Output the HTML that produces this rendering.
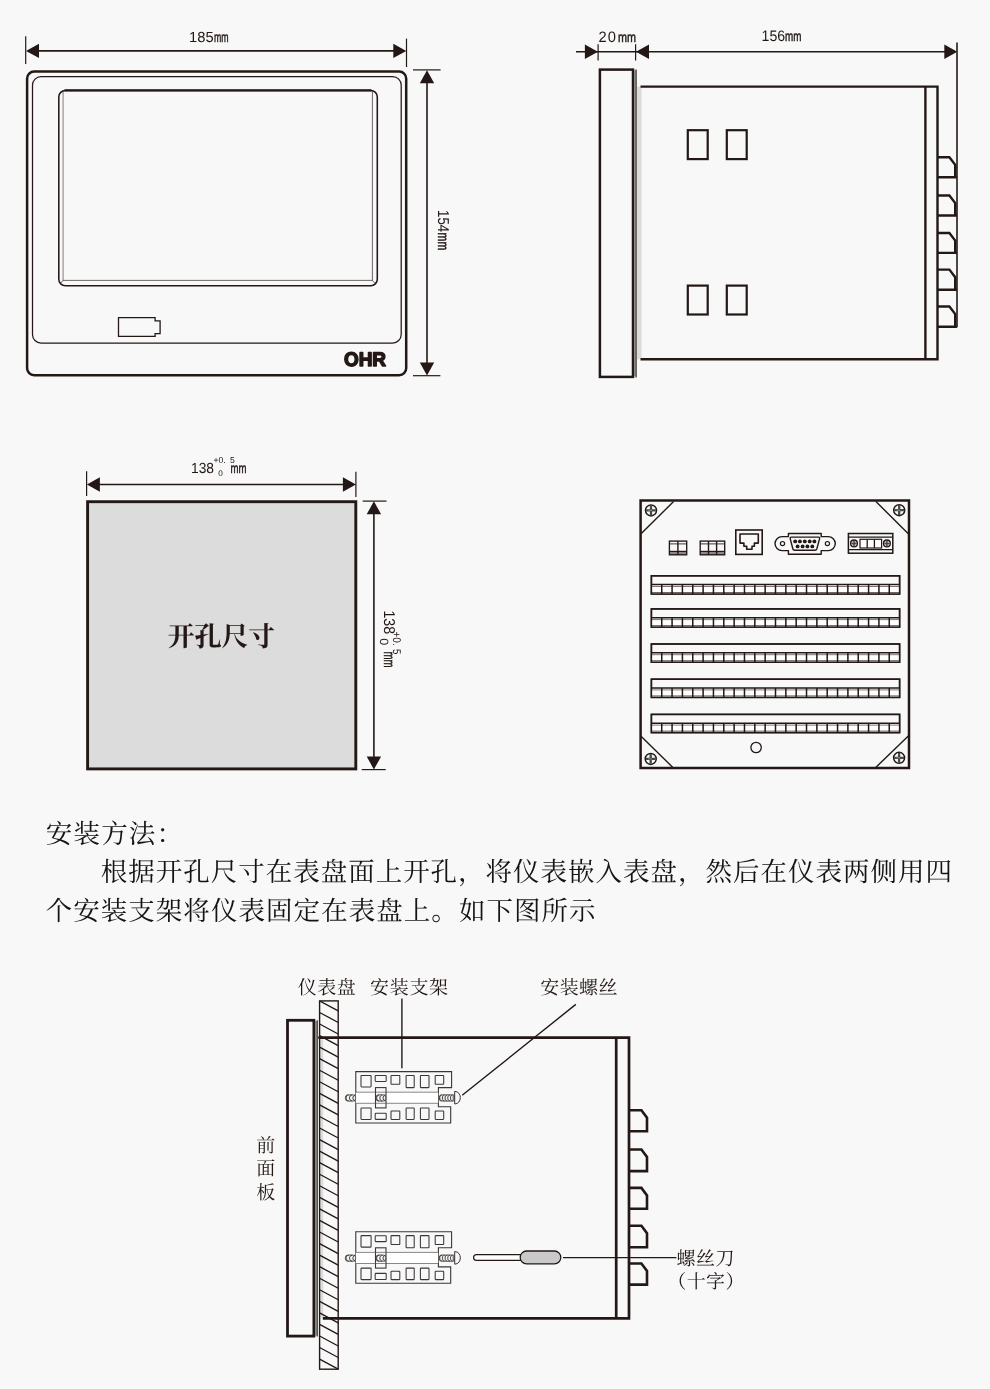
<!DOCTYPE html>
<html lang="zh-CN">
<head>
<meta charset="utf-8">
<title>安装方法 - 开孔尺寸</title>
<style>
html,body{margin:0;padding:0;background:#f8f8f8;}
body{width:990px;height:1389px;overflow:hidden;font-family:"Liberation Sans",sans-serif;}
svg{display:block;will-change:transform;}
svg text{text-rendering:geometricPrecision;font-family:"Liberation Sans",sans-serif;fill:#231815;}
svg text.cs{font-family:"Liberation Serif","Noto Serif CJK SC",serif;fill:#231815;}
svg text.csb{font-family:"Liberation Serif","Noto Serif CJK SC",serif;font-weight:bold;fill:#231815;}
svg text.para{font-family:"Liberation Serif","Noto Serif CJK SC",serif;fill:#161413;}
</style>
</head>
<body>
<svg width="990" height="1389" viewBox="0 0 990 1389">
<rect x="0" y="0" width="990" height="1389" fill="#f8f8f8"/>
<g id="front-view">
<rect x="27.10" y="71.50" width="379.10" height="303.70" rx="7" fill="none" stroke="#231815" stroke-width="2.5"/>
<rect x="32.50" y="76.60" width="368.70" height="266.40" rx="8.5" fill="none" stroke="#231815" stroke-width="1.25"/>
<line x1="63.1" y1="91.5" x2="63.1" y2="280.4" stroke="#a39f9d" stroke-width="1.4"/>
<line x1="372.4" y1="91.5" x2="372.4" y2="280.4" stroke="#6a6462" stroke-width="1.0"/>
<line x1="62.6" y1="280.4" x2="372.9" y2="280.4" stroke="#5f5957" stroke-width="0.9"/>
<line x1="63.2" y1="280.5" x2="60.7" y2="283.2" stroke="#4a4543" stroke-width="0.8"/>
<line x1="372.3" y1="280.5" x2="375.0" y2="283.2" stroke="#4a4543" stroke-width="0.8"/>
<rect x="58.80" y="90.50" width="318.50" height="195.30" rx="6.5" fill="none" stroke="#231815" stroke-width="1.55"/>
<line x1="64.5" y1="90.35" x2="371.5" y2="90.35" stroke="#231815" stroke-width="2.1"/>
<path d="M118.5,317.7H155.1V320.9H160.1V333.6H155.1V336.3H118.5Z" fill="none" stroke="#231815" stroke-width="1.3"/>
<text x="343.9" y="365.6" font-size="19.6" font-weight="bold" text-anchor="start" textLength="42.2" lengthAdjust="spacingAndGlyphs" stroke="#231815" stroke-width="1.5" stroke-linejoin="round">OHR</text>
<line x1="25.7" y1="36.2" x2="25.7" y2="64" stroke="#231815" stroke-width="1.2"/>
<line x1="406.5" y1="38.6" x2="406.5" y2="67" stroke="#231815" stroke-width="1.2"/>
<line x1="30" y1="50.9" x2="402" y2="50.9" stroke="#231815" stroke-width="1.6"/>
<polygon points="26.00,50.90 39.00,43.70 39.00,58.10" fill="#231815"/>
<polygon points="406.30,50.90 393.30,43.70 393.30,58.10" fill="#231815"/>
<text x="189.1" y="42.4" font-size="14.6" font-weight="normal" text-anchor="start" textLength="24.6" lengthAdjust="spacingAndGlyphs">185</text>
<text x="214.0" y="42.4" font-size="14.0" font-weight="normal" text-anchor="start" textLength="14.6" lengthAdjust="spacingAndGlyphs" stroke="#231815" stroke-width="0.45">mm</text>
<line x1="413" y1="69.9" x2="440.6" y2="69.9" stroke="#231815" stroke-width="1.2"/>
<line x1="413" y1="375.7" x2="440.4" y2="375.7" stroke="#231815" stroke-width="1.2"/>
<line x1="427" y1="74" x2="427" y2="372" stroke="#231815" stroke-width="1.6"/>
<polygon points="427.00,70.30 419.80,83.30 434.20,83.30" fill="#231815"/>
<polygon points="427.00,375.60 419.80,362.60 434.20,362.60" fill="#231815"/>
<g transform="translate(437.8 210) rotate(90)">
<text x="0" y="0" font-size="15.8" font-weight="normal" text-anchor="start" textLength="22.2" lengthAdjust="spacingAndGlyphs">154</text>
<text x="22.6" y="0" font-size="15.4" font-weight="normal" text-anchor="start" textLength="17.8" lengthAdjust="spacingAndGlyphs" stroke="#231815" stroke-width="0.45">mm</text>
</g>
</g>
<g id="side-view">
<line x1="576" y1="51.8" x2="953" y2="51.8" stroke="#231815" stroke-width="1.6"/>
<polygon points="597.90,51.80 584.90,44.60 584.90,59.00" fill="#231815"/>
<polygon points="636.00,51.80 649.00,44.60 649.00,59.00" fill="#231815"/>
<polygon points="957.30,51.80 944.30,44.60 944.30,59.00" fill="#231815"/>
<line x1="598.1" y1="44.2" x2="598.1" y2="60.4" stroke="#231815" stroke-width="1.2"/>
<line x1="635.6" y1="44.2" x2="635.6" y2="60.4" stroke="#231815" stroke-width="1.2"/>
<line x1="957.0" y1="42.6" x2="957.0" y2="327.3" stroke="#3b3331" stroke-width="1.8"/>
<text x="598.5" y="41.7" font-size="15.2" font-weight="normal" text-anchor="start" textLength="8.2" lengthAdjust="spacingAndGlyphs">2</text>
<text x="607.7" y="41.7" font-size="15.2" font-weight="normal" text-anchor="start" textLength="8.2" lengthAdjust="spacingAndGlyphs">0</text>
<text x="617.9" y="41.6" font-size="14.0" font-weight="normal" text-anchor="start" textLength="18.0" lengthAdjust="spacingAndGlyphs" stroke="#231815" stroke-width="0.45">mm</text>
<text x="761.6" y="41.4" font-size="15.2" font-weight="normal" text-anchor="start" textLength="23.6" lengthAdjust="spacingAndGlyphs">156</text>
<text x="785.0" y="41.4" font-size="14.0" font-weight="normal" text-anchor="start" textLength="16.4" lengthAdjust="spacingAndGlyphs" stroke="#231815" stroke-width="0.45">mm</text>
<rect x="633.00" y="70.20" width="3.00" height="306.20" fill="#b5b1af" stroke="none" stroke-width="0"/>
<line x1="636.1" y1="69.6" x2="636.1" y2="377.5" stroke="#2e2a28" stroke-width="1.2"/>
<rect x="599.90" y="69.60" width="33.10" height="307.30" fill="none" stroke="#231815" stroke-width="2.5"/>
<rect x="637.00" y="86.60" width="4.60" height="272.70" fill="#dcdcdc" stroke="none" stroke-width="0"/>
<path d="M640.5,86.6H937.5V359.3H640.5 M925.4,86.6V359.3" fill="none" stroke="#231815" stroke-width="2.4" stroke-linejoin="miter"/>
<rect x="687.80" y="130.20" width="19.90" height="28.90" fill="none" stroke="#231815" stroke-width="2.2"/>
<rect x="726.80" y="130.20" width="19.90" height="28.90" fill="none" stroke="#231815" stroke-width="2.2"/>
<rect x="687.80" y="285.60" width="19.90" height="28.90" fill="none" stroke="#231815" stroke-width="2.2"/>
<rect x="726.80" y="285.60" width="19.90" height="28.90" fill="none" stroke="#231815" stroke-width="2.2"/>
<path d="M937.5,157.20H949.4L955.2,164.80V177.20M937.5,177.20H956.9" fill="none" stroke="#231815" stroke-width="2.4"/>
<path d="M937.5,195.50H949.4L955.2,203.10V215.50M937.5,215.50H956.9" fill="none" stroke="#231815" stroke-width="2.4"/>
<path d="M937.5,233.00H949.4L955.2,240.60V252.90M937.5,252.90H956.9" fill="none" stroke="#231815" stroke-width="2.4"/>
<path d="M937.5,269.60H949.4L955.2,277.20V289.80M937.5,289.80H956.9" fill="none" stroke="#231815" stroke-width="2.4"/>
<path d="M937.5,306.50H949.4L955.2,314.10V326.70M937.5,326.70H956.9" fill="none" stroke="#231815" stroke-width="2.4"/>
</g>
<g id="cutout">
<rect x="87.60" y="501.70" width="268.20" height="267.20" fill="#dcdcdc" stroke="#231815" stroke-width="2.9"/>
<line x1="86.6" y1="471.2" x2="86.6" y2="496" stroke="#231815" stroke-width="1.2"/>
<line x1="355.9" y1="471.8" x2="355.9" y2="497" stroke="#231815" stroke-width="1.2"/>
<line x1="91" y1="484.5" x2="352" y2="484.5" stroke="#231815" stroke-width="1.6"/>
<polygon points="86.90,484.50 99.90,477.30 99.90,491.70" fill="#231815"/>
<polygon points="355.90,484.50 342.90,477.30 342.90,491.70" fill="#231815"/>
<line x1="362.7" y1="501.1" x2="386.5" y2="501.1" stroke="#231815" stroke-width="1.2"/>
<line x1="361.7" y1="769.6" x2="385.7" y2="769.6" stroke="#231815" stroke-width="1.2"/>
<line x1="373.9" y1="505" x2="373.9" y2="766" stroke="#231815" stroke-width="1.6"/>
<polygon points="373.90,501.30 366.70,514.30 381.10,514.30" fill="#231815"/>
<polygon points="373.90,769.50 366.70,756.50 381.10,756.50" fill="#231815"/>
<text class="csb" x="167.6" y="645.9" font-size="27.2" textLength="107.6">开孔尺寸</text>
<g transform="translate(191.0 473.4)">
<text x="0" y="0" font-size="14.6" font-weight="normal" text-anchor="start" textLength="23.0" lengthAdjust="spacingAndGlyphs">138</text>
<text x="22.4" y="-10.3" font-size="8.6" font-weight="normal" text-anchor="start" textLength="12.2" lengthAdjust="spacingAndGlyphs">+0.</text>
<text x="39.0" y="-10.3" font-size="8.6" font-weight="normal" text-anchor="start">5</text>
<text x="27.2" y="3.0" font-size="8.2" font-weight="normal" text-anchor="start">0</text>
<text x="39.4" y="0" font-size="14.0" font-weight="normal" text-anchor="start" textLength="16.0" lengthAdjust="spacingAndGlyphs" stroke="#231815" stroke-width="0.45">mm</text>
</g>
<g transform="translate(383.8 610.5) rotate(90)">
<text x="0" y="0" font-size="15.7" font-weight="normal" text-anchor="start" textLength="23.6" lengthAdjust="spacingAndGlyphs">138</text>
<text x="21.0" y="-9.4" font-size="11.2" font-weight="normal" text-anchor="start" textLength="14.2" lengthAdjust="spacingAndGlyphs">+0.</text>
<text x="38.4" y="-9.4" font-size="11.2" font-weight="normal" text-anchor="start" textLength="5.4" lengthAdjust="spacingAndGlyphs">5</text>
<text x="27.8" y="3.9" font-size="12.0" font-weight="normal" text-anchor="start" textLength="7.0" lengthAdjust="spacingAndGlyphs">0</text>
<text x="40.9" y="0" font-size="15.4" font-weight="normal" text-anchor="start" textLength="16.2" lengthAdjust="spacingAndGlyphs" stroke="#231815" stroke-width="0.45">mm</text>
</g>
</g>
<g id="rear-view">
<rect x="640.60" y="500.50" width="268.40" height="267.50" fill="none" stroke="#231815" stroke-width="2.5"/>
<line x1="673.6" y1="501.5" x2="641.3" y2="533.6" stroke="#231815" stroke-width="1.4"/>
<line x1="875.9" y1="501.5" x2="908.3" y2="533.7" stroke="#231815" stroke-width="1.4"/>
<line x1="641.3" y1="736.6" x2="672.6" y2="767.2" stroke="#231815" stroke-width="1.4"/>
<line x1="876.0" y1="767.2" x2="908.3" y2="736.0" stroke="#231815" stroke-width="1.4"/>
<circle cx="651.0" cy="510.4" r="5.5" fill="#f8f8f8" stroke="#231815" stroke-width="1.5"/>
<path d="M646.10,510.4H655.90M651.0,505.50V515.30" fill="none" stroke="#474b48" stroke-width="2.3"/>
<path d="M648.40,510.4H652.00" fill="none" stroke="#b9bbb9" stroke-width="0.6"/>
<circle cx="899.2" cy="510.2" r="5.5" fill="#f8f8f8" stroke="#231815" stroke-width="1.5"/>
<path d="M894.30,510.2H904.10M899.2,505.30V515.10" fill="none" stroke="#474b48" stroke-width="2.3"/>
<path d="M896.60,510.2H900.20" fill="none" stroke="#b9bbb9" stroke-width="0.6"/>
<circle cx="650.7" cy="758.9" r="5.5" fill="#f8f8f8" stroke="#231815" stroke-width="1.5"/>
<path d="M645.80,758.9H655.60M650.7,754.00V763.80" fill="none" stroke="#474b48" stroke-width="2.3"/>
<path d="M648.10,758.9H651.70" fill="none" stroke="#b9bbb9" stroke-width="0.6"/>
<circle cx="899.1" cy="757.8" r="5.5" fill="#f8f8f8" stroke="#231815" stroke-width="1.5"/>
<path d="M894.20,757.8H904.00M899.1,752.90V762.70" fill="none" stroke="#474b48" stroke-width="2.3"/>
<path d="M896.50,757.8H900.10" fill="none" stroke="#b9bbb9" stroke-width="0.6"/>
<circle cx="756.1" cy="747.5" r="5.2" fill="none" stroke="#231815" stroke-width="1.3"/>
<rect x="651.40" y="575.80" width="248.20" height="18.20" fill="none" stroke="#231815" stroke-width="1.5"/>
<rect x="651.40" y="584.60" width="248.20" height="9.40" fill="#ffffff" stroke="none" stroke-width="0"/>
<line x1="651.4" y1="584.5999999999999" x2="899.6" y2="584.5999999999999" stroke="#231815" stroke-width="1.5"/>
<line x1="651.4" y1="586.4999999999999" x2="899.6" y2="586.4999999999999" stroke="#5a5553" stroke-width="0.8"/>
<line x1="651.4" y1="592.5" x2="899.6" y2="592.5" stroke="#5a5553" stroke-width="0.9"/>
<path d="M661.74,584.5999999999999V594.0M672.08,584.5999999999999V594.0M682.42,584.5999999999999V594.0M692.77,584.5999999999999V594.0M703.11,584.5999999999999V594.0M713.45,584.5999999999999V594.0M723.79,584.5999999999999V594.0M734.13,584.5999999999999V594.0M744.48,584.5999999999999V594.0M754.82,584.5999999999999V594.0M765.16,584.5999999999999V594.0M775.50,584.5999999999999V594.0M785.84,584.5999999999999V594.0M796.18,584.5999999999999V594.0M806.52,584.5999999999999V594.0M816.87,584.5999999999999V594.0M827.21,584.5999999999999V594.0M837.55,584.5999999999999V594.0M847.89,584.5999999999999V594.0M858.23,584.5999999999999V594.0M868.58,584.5999999999999V594.0M878.92,584.5999999999999V594.0M889.26,584.5999999999999V594.0" fill="none" stroke="#231815" stroke-width="1.5"/>
<rect x="651.40" y="575.80" width="248.20" height="18.20" fill="none" stroke="#231815" stroke-width="1.5"/>
<rect x="651.40" y="608.90" width="248.20" height="18.20" fill="none" stroke="#231815" stroke-width="1.5"/>
<rect x="651.40" y="617.70" width="248.20" height="9.40" fill="#ffffff" stroke="none" stroke-width="0"/>
<line x1="651.4" y1="617.6999999999999" x2="899.6" y2="617.6999999999999" stroke="#231815" stroke-width="1.5"/>
<line x1="651.4" y1="619.5999999999999" x2="899.6" y2="619.5999999999999" stroke="#5a5553" stroke-width="0.8"/>
<line x1="651.4" y1="625.6" x2="899.6" y2="625.6" stroke="#5a5553" stroke-width="0.9"/>
<path d="M661.74,617.6999999999999V627.1M672.08,617.6999999999999V627.1M682.42,617.6999999999999V627.1M692.77,617.6999999999999V627.1M703.11,617.6999999999999V627.1M713.45,617.6999999999999V627.1M723.79,617.6999999999999V627.1M734.13,617.6999999999999V627.1M744.48,617.6999999999999V627.1M754.82,617.6999999999999V627.1M765.16,617.6999999999999V627.1M775.50,617.6999999999999V627.1M785.84,617.6999999999999V627.1M796.18,617.6999999999999V627.1M806.52,617.6999999999999V627.1M816.87,617.6999999999999V627.1M827.21,617.6999999999999V627.1M837.55,617.6999999999999V627.1M847.89,617.6999999999999V627.1M858.23,617.6999999999999V627.1M868.58,617.6999999999999V627.1M878.92,617.6999999999999V627.1M889.26,617.6999999999999V627.1" fill="none" stroke="#231815" stroke-width="1.5"/>
<rect x="651.40" y="608.90" width="248.20" height="18.20" fill="none" stroke="#231815" stroke-width="1.5"/>
<rect x="651.40" y="644.00" width="248.20" height="18.20" fill="none" stroke="#231815" stroke-width="1.5"/>
<rect x="651.40" y="652.80" width="248.20" height="9.40" fill="#ffffff" stroke="none" stroke-width="0"/>
<line x1="651.4" y1="652.8" x2="899.6" y2="652.8" stroke="#231815" stroke-width="1.5"/>
<line x1="651.4" y1="654.6999999999999" x2="899.6" y2="654.6999999999999" stroke="#5a5553" stroke-width="0.8"/>
<line x1="651.4" y1="660.7" x2="899.6" y2="660.7" stroke="#5a5553" stroke-width="0.9"/>
<path d="M661.74,652.8V662.2M672.08,652.8V662.2M682.42,652.8V662.2M692.77,652.8V662.2M703.11,652.8V662.2M713.45,652.8V662.2M723.79,652.8V662.2M734.13,652.8V662.2M744.48,652.8V662.2M754.82,652.8V662.2M765.16,652.8V662.2M775.50,652.8V662.2M785.84,652.8V662.2M796.18,652.8V662.2M806.52,652.8V662.2M816.87,652.8V662.2M827.21,652.8V662.2M837.55,652.8V662.2M847.89,652.8V662.2M858.23,652.8V662.2M868.58,652.8V662.2M878.92,652.8V662.2M889.26,652.8V662.2" fill="none" stroke="#231815" stroke-width="1.5"/>
<rect x="651.40" y="644.00" width="248.20" height="18.20" fill="none" stroke="#231815" stroke-width="1.5"/>
<rect x="651.40" y="679.20" width="248.20" height="18.20" fill="none" stroke="#231815" stroke-width="1.5"/>
<rect x="651.40" y="688.00" width="248.20" height="9.40" fill="#ffffff" stroke="none" stroke-width="0"/>
<line x1="651.4" y1="688.0" x2="899.6" y2="688.0" stroke="#231815" stroke-width="1.5"/>
<line x1="651.4" y1="689.9" x2="899.6" y2="689.9" stroke="#5a5553" stroke-width="0.8"/>
<line x1="651.4" y1="695.9000000000001" x2="899.6" y2="695.9000000000001" stroke="#5a5553" stroke-width="0.9"/>
<path d="M661.74,688.0V697.4000000000001M672.08,688.0V697.4000000000001M682.42,688.0V697.4000000000001M692.77,688.0V697.4000000000001M703.11,688.0V697.4000000000001M713.45,688.0V697.4000000000001M723.79,688.0V697.4000000000001M734.13,688.0V697.4000000000001M744.48,688.0V697.4000000000001M754.82,688.0V697.4000000000001M765.16,688.0V697.4000000000001M775.50,688.0V697.4000000000001M785.84,688.0V697.4000000000001M796.18,688.0V697.4000000000001M806.52,688.0V697.4000000000001M816.87,688.0V697.4000000000001M827.21,688.0V697.4000000000001M837.55,688.0V697.4000000000001M847.89,688.0V697.4000000000001M858.23,688.0V697.4000000000001M868.58,688.0V697.4000000000001M878.92,688.0V697.4000000000001M889.26,688.0V697.4000000000001" fill="none" stroke="#231815" stroke-width="1.5"/>
<rect x="651.40" y="679.20" width="248.20" height="18.20" fill="none" stroke="#231815" stroke-width="1.5"/>
<rect x="651.40" y="714.40" width="248.20" height="18.20" fill="none" stroke="#231815" stroke-width="1.5"/>
<rect x="651.40" y="723.20" width="248.20" height="9.40" fill="#ffffff" stroke="none" stroke-width="0"/>
<line x1="651.4" y1="723.1999999999999" x2="899.6" y2="723.1999999999999" stroke="#231815" stroke-width="1.5"/>
<line x1="651.4" y1="725.0999999999999" x2="899.6" y2="725.0999999999999" stroke="#5a5553" stroke-width="0.8"/>
<line x1="651.4" y1="731.1" x2="899.6" y2="731.1" stroke="#5a5553" stroke-width="0.9"/>
<path d="M661.74,723.1999999999999V732.6M672.08,723.1999999999999V732.6M682.42,723.1999999999999V732.6M692.77,723.1999999999999V732.6M703.11,723.1999999999999V732.6M713.45,723.1999999999999V732.6M723.79,723.1999999999999V732.6M734.13,723.1999999999999V732.6M744.48,723.1999999999999V732.6M754.82,723.1999999999999V732.6M765.16,723.1999999999999V732.6M775.50,723.1999999999999V732.6M785.84,723.1999999999999V732.6M796.18,723.1999999999999V732.6M806.52,723.1999999999999V732.6M816.87,723.1999999999999V732.6M827.21,723.1999999999999V732.6M837.55,723.1999999999999V732.6M847.89,723.1999999999999V732.6M858.23,723.1999999999999V732.6M868.58,723.1999999999999V732.6M878.92,723.1999999999999V732.6M889.26,723.1999999999999V732.6" fill="none" stroke="#231815" stroke-width="1.5"/>
<rect x="651.40" y="714.40" width="248.20" height="18.20" fill="none" stroke="#231815" stroke-width="1.5"/>
</g>
<g id="rear-connectors">
<rect x="669.40" y="551.40" width="17.30" height="3.40" fill="#8d8886" stroke="none" stroke-width="0"/>
<line x1="669.4" y1="543.9" x2="686.7" y2="543.9" stroke="#3e3a39" stroke-width="1.0"/>
<line x1="669.4" y1="551.4" x2="686.7" y2="551.4" stroke="#231815" stroke-width="1.2"/>
<line x1="677.9" y1="541.1" x2="677.9" y2="554.8" stroke="#231815" stroke-width="1.4"/>
<rect x="669.40" y="541.10" width="17.30" height="13.70" fill="none" stroke="#231815" stroke-width="1.35"/>
<rect x="700.20" y="551.40" width="24.50" height="3.40" fill="#8d8886" stroke="none" stroke-width="0"/>
<line x1="700.2" y1="543.9" x2="724.7" y2="543.9" stroke="#3e3a39" stroke-width="1.0"/>
<line x1="700.2" y1="551.4" x2="724.7" y2="551.4" stroke="#231815" stroke-width="1.2"/>
<line x1="708.5" y1="541.1" x2="708.5" y2="554.8" stroke="#231815" stroke-width="1.4"/>
<line x1="716.6" y1="541.1" x2="716.6" y2="554.8" stroke="#231815" stroke-width="1.4"/>
<rect x="700.20" y="541.10" width="24.50" height="13.70" fill="none" stroke="#231815" stroke-width="1.35"/>
<rect x="735.80" y="530.00" width="26.40" height="24.40" fill="none" stroke="#231815" stroke-width="1.6"/>
<path d="M740,534H758.3V543.1H754.4V546.2H752V549.2H746.7V546.2H743.9V543.1H740Z" fill="none" stroke="#231815" stroke-width="1.6" stroke-linejoin="round"/>
<path d="M788.4,533.5H821.2V536.6H828.3A7,7 0 0 1 828.3,550.6H821.2V554.2H788.4V550.6H782A7,7 0 0 1 782,536.6H788.4Z" fill="none" stroke="#231815" stroke-width="1.4" stroke-linejoin="round"/>
<circle cx="782.5" cy="543.6" r="2.1" fill="none" stroke="#231815" stroke-width="1.2"/>
<circle cx="827.4" cy="543.6" r="2.1" fill="none" stroke="#231815" stroke-width="1.2"/>
<path d="M791.4,537.1H818.6Q820,537.1 819.6,538.6L816.8,549Q816.4,550.2 815,550.2H794.6Q793.2,550.2 792.9,549L790.2,538.6Q789.9,537.1 791.4,537.1Z" fill="none" stroke="#231815" stroke-width="1.4"/>
<circle cx="795.2" cy="541.4" r="1.95" fill="#231815"/>
<circle cx="799.9" cy="541.4" r="1.95" fill="#231815"/>
<circle cx="804.8" cy="541.4" r="1.95" fill="#231815"/>
<circle cx="809.7" cy="541.4" r="1.95" fill="#231815"/>
<circle cx="814.4" cy="541.4" r="1.95" fill="#231815"/>
<circle cx="797.6" cy="546.4" r="1.95" fill="#231815"/>
<circle cx="802.6" cy="546.4" r="1.95" fill="#231815"/>
<circle cx="807.4" cy="546.4" r="1.95" fill="#231815"/>
<circle cx="812.3" cy="546.4" r="1.95" fill="#231815"/>
<rect x="848.40" y="533.50" width="44.40" height="19.70" fill="none" stroke="#231815" stroke-width="1.5"/>
<line x1="848.4" y1="537.1" x2="892.8" y2="537.1" stroke="#231815" stroke-width="1.3"/>
<line x1="848.4" y1="549.7" x2="892.8" y2="549.7" stroke="#231815" stroke-width="1.3"/>
<circle cx="854.0" cy="543.4" r="3.4" fill="#cfcfcf" stroke="#231815" stroke-width="1.3"/>
<path d="M851.4,543.4H856.6M854.0,540.8V546" fill="none" stroke="#474b48" stroke-width="1.5"/>
<circle cx="886.9" cy="543.4" r="3.4" fill="#cfcfcf" stroke="#231815" stroke-width="1.3"/>
<path d="M884.3,543.4H889.5M886.9,540.8V546" fill="none" stroke="#474b48" stroke-width="1.5"/>
<rect x="860.00" y="539.30" width="21.60" height="8.70" fill="#fdfdfd" stroke="#231815" stroke-width="1.2"/>
<line x1="867.2" y1="539.3" x2="867.2" y2="548.0" stroke="#231815" stroke-width="1.3"/>
<line x1="874.4" y1="539.3" x2="874.4" y2="548.0" stroke="#231815" stroke-width="1.3"/>
</g>
<g id="paragraph">
<text class="para" x="45.8" y="842.7" font-size="26.5" textLength="137.2">安装方法：</text>
<text class="para" x="100.7" y="881.2" font-size="26.5" textLength="851.3">根据开孔尺寸在表盘面上开孔，将仪表嵌入表盘，然后在仪表两侧用四</text>
<text class="para" x="45.6" y="920.0" font-size="26.5" textLength="550.0">个安装支架将仪表固定在表盘上。如下图所示</text>
</g>
<g id="install">
<text class="cs" x="297.7" y="994.3" font-size="19.0" textLength="58.1">仪表盘</text>
<text class="cs" x="370.1" y="994.3" font-size="19.0" textLength="78.0">安装支架</text>
<text class="cs" x="540.2" y="994.0" font-size="19.0" textLength="77.4">安装螺丝</text>
<text class="cs" font-size="19.0"><tspan x="256.2" y="1151.6">前</tspan><tspan x="256.2" y="1175.3">面</tspan><tspan x="256.2" y="1199.0">板</tspan></text>
<text class="cs" x="676.5" y="1265.2" font-size="19.0" textLength="57.9">螺丝刀</text>
<text class="cs" x="667.3" y="1288.2" font-size="19.0" textLength="77.2">（十字）</text>
<clipPath id="hclip"><rect x="319.6" y="1000.9" width="18.60" height="368.30"/></clipPath>
<rect x="319.60" y="1000.90" width="18.60" height="368.30" fill="#f8f8f8" stroke="none" stroke-width="0"/>
<rect x="320.40" y="1038.50" width="2.80" height="279.00" fill="#dcdcdc" stroke="none" stroke-width="0"/>
<path d="M319.6,1000.90L338.2,1010.90M319.6,1012.45L338.2,1022.45M319.6,1024.01L338.2,1034.01M319.6,1035.57L338.2,1045.57M319.6,1047.12L338.2,1057.12M319.6,1058.67L338.2,1068.67M319.6,1070.23L338.2,1080.23M319.6,1081.78L338.2,1091.78M319.6,1093.34L338.2,1103.34M319.6,1104.89L338.2,1114.89M319.6,1116.45L338.2,1126.45M319.6,1128.00L338.2,1138.00M319.6,1139.56L338.2,1149.56M319.6,1151.12L338.2,1161.12M319.6,1162.67L338.2,1172.67M319.6,1174.22L338.2,1184.22M319.6,1185.78L338.2,1195.78M319.6,1197.34L338.2,1207.34M319.6,1208.89L338.2,1218.89M319.6,1220.44L338.2,1230.44M319.6,1232.00L338.2,1242.00M319.6,1243.56L338.2,1253.56M319.6,1255.11L338.2,1265.11M319.6,1266.66L338.2,1276.66M319.6,1278.22L338.2,1288.22M319.6,1289.78L338.2,1299.78M319.6,1301.33L338.2,1311.33M319.6,1312.88L338.2,1322.88M319.6,1324.44L338.2,1334.44M319.6,1335.99L338.2,1345.99M319.6,1347.55L338.2,1357.55M319.6,1359.11L338.2,1369.11" fill="none" stroke="#231815" stroke-width="1.3" clip-path="url(#hclip)"/>
<rect x="319.60" y="1000.90" width="18.60" height="368.30" fill="none" stroke="#231815" stroke-width="1.4"/>
<rect x="313.90" y="1021.00" width="3.20" height="314.60" fill="#b5b1af" stroke="none" stroke-width="0"/>
<line x1="317.2" y1="1020.3" x2="317.2" y2="1336.6" stroke="#2e2a28" stroke-width="1.2"/>
<rect x="287.50" y="1020.30" width="26.40" height="315.80" fill="none" stroke="#231815" stroke-width="2.8"/>
<path d="M318.3,1037.6H629V1318.3H322.8M616.2,1037.6V1318.3" fill="none" stroke="#231815" stroke-width="2.7"/>
<path d="M629,1110.30H641.4L647,1117.80V1131.30M629,1131.30H648.3" fill="none" stroke="#231815" stroke-width="2.6"/>
<path d="M629,1149.50H641.4L647,1157.00V1171.10M629,1171.10H648.3" fill="none" stroke="#231815" stroke-width="2.6"/>
<path d="M629,1187.90H641.4L647,1195.40V1208.80M629,1208.80H648.3" fill="none" stroke="#231815" stroke-width="2.6"/>
<path d="M629,1225.70H641.4L647,1233.20V1247.20M629,1247.20H648.3" fill="none" stroke="#231815" stroke-width="2.6"/>
<path d="M629,1263.50H641.4L647,1271.00V1284.60M629,1284.60H648.3" fill="none" stroke="#231815" stroke-width="2.6"/>
<g transform="translate(0 0)">
<path d="M355.8,1071.6H451.6V1087.6H438.4V1106.7H450.7V1123H355.8Z" fill="#f8f8f8" stroke="#3a3634" stroke-width="1.1"/>
<rect x="355.80" y="1092.20" width="82.40" height="11.10" fill="#ffffff" stroke="none" stroke-width="0"/>
<line x1="355.8" y1="1092.2" x2="438.2" y2="1092.2" stroke="#6d6866" stroke-width="0.8"/>
<line x1="355.8" y1="1103.3" x2="438.2" y2="1103.3" stroke="#6d6866" stroke-width="0.8"/>
<rect x="375.50" y="1087.60" width="10.50" height="20.30" fill="#f8f8f8" stroke="#3a3634" stroke-width="1.1"/>
<line x1="375.5" y1="1092.2" x2="386" y2="1092.2" stroke="#6d6866" stroke-width="0.8"/>
<line x1="375.5" y1="1103.3" x2="386" y2="1103.3" stroke="#6d6866" stroke-width="0.8"/>
<rect x="361.00" y="1075.40" width="10.10" height="11.50" rx="0.6" fill="none" stroke="#3a3634" stroke-width="1.05"/>
<rect x="375.20" y="1075.50" width="11.00" height="5.90" rx="0.6" fill="none" stroke="#3a3634" stroke-width="1.05"/>
<rect x="391.00" y="1075.40" width="8.80" height="8.90" rx="0.6" fill="none" stroke="#3a3634" stroke-width="1.05"/>
<rect x="406.10" y="1075.40" width="8.10" height="12.20" rx="0.6" fill="none" stroke="#3a3634" stroke-width="1.05"/>
<rect x="420.40" y="1075.40" width="8.60" height="12.20" rx="0.6" fill="none" stroke="#3a3634" stroke-width="1.05"/>
<rect x="435.20" y="1075.40" width="8.50" height="8.90" rx="0.6" fill="none" stroke="#3a3634" stroke-width="1.05"/>
<rect x="361.00" y="1107.90" width="10.10" height="11.50" rx="0.6" fill="none" stroke="#3a3634" stroke-width="1.05"/>
<rect x="375.20" y="1113.20" width="11.00" height="6.20" rx="0.6" fill="none" stroke="#3a3634" stroke-width="1.05"/>
<rect x="391.00" y="1111.00" width="8.80" height="8.40" rx="0.6" fill="none" stroke="#3a3634" stroke-width="1.05"/>
<rect x="406.10" y="1107.90" width="8.10" height="11.50" rx="0.6" fill="none" stroke="#3a3634" stroke-width="1.05"/>
<rect x="420.40" y="1107.90" width="8.60" height="11.50" rx="0.6" fill="none" stroke="#3a3634" stroke-width="1.05"/>
<rect x="435.20" y="1111.00" width="8.50" height="8.40" rx="0.6" fill="none" stroke="#3a3634" stroke-width="1.05"/>
<rect x="345.40" y="1094.9" width="10.20" height="6.10" rx="2.4" fill="#f4f4f4" stroke="#3f3b39" stroke-width="0.9"/>
<path d="M348.73,1094.9C345.20,1095.50 345.20,1100.40 348.73,1101.0M352.13,1094.9C348.60,1095.50 348.60,1100.40 352.13,1101.0M355.53,1094.9C352.00,1095.50 352.00,1100.40 355.53,1101.0" fill="none" stroke="#3f3b39" stroke-width="1.0"/>
<rect x="376.00" y="1094.9" width="9.60" height="6.10" rx="2.4" fill="#f4f4f4" stroke="#3f3b39" stroke-width="0.9"/>
<path d="M379.14,1094.9C375.80,1095.50 375.80,1100.40 379.14,1101.0M382.34,1094.9C379.00,1095.50 379.00,1100.40 382.34,1101.0M385.54,1094.9C382.20,1095.50 382.20,1100.40 385.54,1101.0" fill="none" stroke="#3f3b39" stroke-width="1.0"/>
<rect x="439.20" y="1094.9" width="15.80" height="6.10" rx="2.4" fill="#f4f4f4" stroke="#3f3b39" stroke-width="0.9"/>
<rect x="452.60" y="1094.60" width="2.4" height="6.70" fill="#7d7876"/>
<path d="M441.83,1094.9C439.00,1095.50 439.00,1100.40 441.83,1101.0M444.51,1094.9C441.68,1095.50 441.68,1100.40 444.51,1101.0M447.19,1094.9C444.36,1095.50 444.36,1100.40 447.19,1101.0M449.87,1094.9C447.04,1095.50 447.04,1100.40 449.87,1101.0M452.55,1094.9C449.72,1095.50 449.72,1100.40 452.55,1101.0" fill="none" stroke="#3f3b39" stroke-width="1.0"/>
<path d="M454.7,1091.3C462.2,1091.6 462.2,1103.8 454.7,1104Z" fill="#f8f8f8" stroke="#3a3634" stroke-width="1.0"/>
</g>
<g transform="translate(0 160.2)">
<path d="M355.8,1071.6H451.6V1087.6H438.4V1106.7H450.7V1123H355.8Z" fill="#f8f8f8" stroke="#3a3634" stroke-width="1.1"/>
<rect x="355.80" y="1092.20" width="82.40" height="11.10" fill="#ffffff" stroke="none" stroke-width="0"/>
<line x1="355.8" y1="1092.2" x2="438.2" y2="1092.2" stroke="#6d6866" stroke-width="0.8"/>
<line x1="355.8" y1="1103.3" x2="438.2" y2="1103.3" stroke="#6d6866" stroke-width="0.8"/>
<rect x="375.50" y="1087.60" width="10.50" height="20.30" fill="#f8f8f8" stroke="#3a3634" stroke-width="1.1"/>
<line x1="375.5" y1="1092.2" x2="386" y2="1092.2" stroke="#6d6866" stroke-width="0.8"/>
<line x1="375.5" y1="1103.3" x2="386" y2="1103.3" stroke="#6d6866" stroke-width="0.8"/>
<rect x="361.00" y="1075.40" width="10.10" height="11.50" rx="0.6" fill="none" stroke="#3a3634" stroke-width="1.05"/>
<rect x="375.20" y="1075.50" width="11.00" height="5.90" rx="0.6" fill="none" stroke="#3a3634" stroke-width="1.05"/>
<rect x="391.00" y="1075.40" width="8.80" height="8.90" rx="0.6" fill="none" stroke="#3a3634" stroke-width="1.05"/>
<rect x="406.10" y="1075.40" width="8.10" height="12.20" rx="0.6" fill="none" stroke="#3a3634" stroke-width="1.05"/>
<rect x="420.40" y="1075.40" width="8.60" height="12.20" rx="0.6" fill="none" stroke="#3a3634" stroke-width="1.05"/>
<rect x="435.20" y="1075.40" width="8.50" height="8.90" rx="0.6" fill="none" stroke="#3a3634" stroke-width="1.05"/>
<rect x="361.00" y="1107.90" width="10.10" height="11.50" rx="0.6" fill="none" stroke="#3a3634" stroke-width="1.05"/>
<rect x="375.20" y="1113.20" width="11.00" height="6.20" rx="0.6" fill="none" stroke="#3a3634" stroke-width="1.05"/>
<rect x="391.00" y="1111.00" width="8.80" height="8.40" rx="0.6" fill="none" stroke="#3a3634" stroke-width="1.05"/>
<rect x="406.10" y="1107.90" width="8.10" height="11.50" rx="0.6" fill="none" stroke="#3a3634" stroke-width="1.05"/>
<rect x="420.40" y="1107.90" width="8.60" height="11.50" rx="0.6" fill="none" stroke="#3a3634" stroke-width="1.05"/>
<rect x="435.20" y="1111.00" width="8.50" height="8.40" rx="0.6" fill="none" stroke="#3a3634" stroke-width="1.05"/>
<rect x="345.40" y="1094.9" width="10.20" height="6.10" rx="2.4" fill="#f4f4f4" stroke="#3f3b39" stroke-width="0.9"/>
<path d="M348.73,1094.9C345.20,1095.50 345.20,1100.40 348.73,1101.0M352.13,1094.9C348.60,1095.50 348.60,1100.40 352.13,1101.0M355.53,1094.9C352.00,1095.50 352.00,1100.40 355.53,1101.0" fill="none" stroke="#3f3b39" stroke-width="1.0"/>
<rect x="376.00" y="1094.9" width="9.60" height="6.10" rx="2.4" fill="#f4f4f4" stroke="#3f3b39" stroke-width="0.9"/>
<path d="M379.14,1094.9C375.80,1095.50 375.80,1100.40 379.14,1101.0M382.34,1094.9C379.00,1095.50 379.00,1100.40 382.34,1101.0M385.54,1094.9C382.20,1095.50 382.20,1100.40 385.54,1101.0" fill="none" stroke="#3f3b39" stroke-width="1.0"/>
<rect x="439.20" y="1094.9" width="15.80" height="6.10" rx="2.4" fill="#f4f4f4" stroke="#3f3b39" stroke-width="0.9"/>
<rect x="452.60" y="1094.60" width="2.4" height="6.70" fill="#7d7876"/>
<path d="M441.83,1094.9C439.00,1095.50 439.00,1100.40 441.83,1101.0M444.51,1094.9C441.68,1095.50 441.68,1100.40 444.51,1101.0M447.19,1094.9C444.36,1095.50 444.36,1100.40 447.19,1101.0M449.87,1094.9C447.04,1095.50 447.04,1100.40 449.87,1101.0M452.55,1094.9C449.72,1095.50 449.72,1100.40 452.55,1101.0" fill="none" stroke="#3f3b39" stroke-width="1.0"/>
<path d="M454.7,1091.3C462.2,1091.6 462.2,1103.8 454.7,1104Z" fill="#f8f8f8" stroke="#3a3634" stroke-width="1.0"/>
</g>
<line x1="401.9" y1="998.5" x2="401.9" y2="1068.2" stroke="#231815" stroke-width="1.4"/>
<line x1="575.8" y1="1004.4" x2="462.2" y2="1095.3" stroke="#231815" stroke-width="1.4"/>
<line x1="563.0" y1="1257.6" x2="676.4" y2="1257.6" stroke="#231815" stroke-width="1.4"/>
<rect x="473.6" y="1254.6" width="50" height="5.8" rx="2.9" fill="#ffffff" stroke="#231815" stroke-width="1.2"/>
<rect x="520.2" y="1251.0" width="40.6" height="12.8" rx="6.4" fill="#c9c9c9" stroke="#231815" stroke-width="1.3"/>
</g>
</svg>
</body>
</html>
